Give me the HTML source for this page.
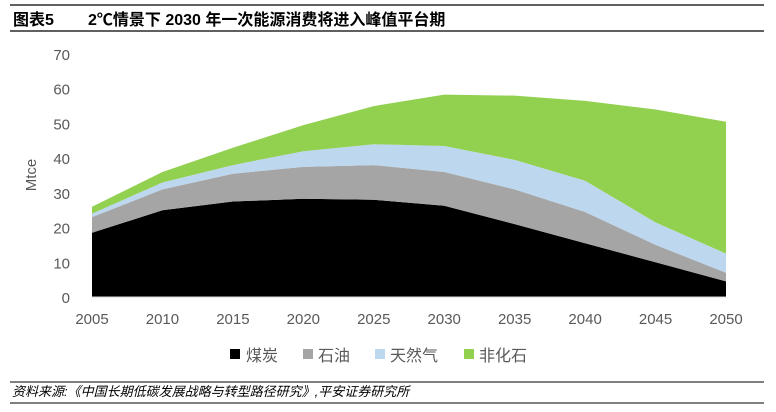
<!DOCTYPE html>
<html><head><meta charset="utf-8"><style>
body{margin:0;background:#fff;width:776px;height:412px;overflow:hidden;font-family:"Liberation Sans","Noto Sans CJK SC",sans-serif}
</style></head><body>
<svg width="776" height="412" style="position:absolute;left:0;top:0" font-family="Liberation Sans, Noto Sans CJK SC, sans-serif">
<line x1="10" y1="5" x2="764" y2="5" stroke="#000" stroke-width="1.2"/>
<text x="13" y="25" font-size="16" font-weight="bold">图表5</text>
<text x="88" y="25" font-size="16" font-weight="bold">2℃情景下 2030 年一次能源消费将进入峰值平台期</text>
<line x1="10" y1="31" x2="764" y2="31" stroke="#000" stroke-width="1.2"/>
<g id="plot"></g>
<text transform="translate(36,175) rotate(-90)" text-anchor="middle" font-size="15" fill="#595959">Mtce</text>
<g font-size="16" fill="#595959">
<rect x="230" y="349" width="10" height="10" fill="#000"/><text x="246" y="361">煤炭</text>
<rect x="303" y="349" width="10" height="10" fill="#a5a5a5"/><text x="318" y="361">石油</text>
<rect x="375" y="349" width="10" height="10" fill="#bdd7ee"/><text x="390" y="361">天然气</text>
<rect x="464" y="349" width="10" height="10" fill="#92d050"/><text x="479" y="361">非化石</text>
</g>
<line x1="10" y1="382" x2="764" y2="382" stroke="#000" stroke-width="1"/>
<text x="12" y="396" font-size="13" font-style="italic">资料来源:《中国长期低碳发展战略与转型路径研究》,平安证券研究所</text>
<line x1="10" y1="403" x2="764" y2="403" stroke="#000" stroke-width="1"/>
</svg>
<script>
const years=[2005,2010,2015,2020,2025,2030,2035,2040,2045,2050];
const coal=[18.5,25,27.5,28.3,28,26.3,21,15.5,10,4.5];
const oil=[4.5,6,8,9.2,10,9.7,10,9,5,2.5];
const gas=[1,2,2.5,4.5,6,7.5,8.5,9,6.5,5.5];
const nonfossil=[2,3,5,7.5,11,14.8,18.5,23,32.5,38];
const yTicks=[0,10,20,30,40,50,60,70];
const NS="http://www.w3.org/2000/svg";
const x=v=>92+(v-2005)/45*634;
const y=v=>297-v*243/70;
const g=document.getElementById('plot');
function mk(t,a){const e=document.createElementNS(NS,t);for(const k in a)e.setAttribute(k,a[k]);g.appendChild(e);return e;}
const series=[[coal,'#000','area-coal'],[oil,'#a5a5a5','area-oil'],[gas,'#bdd7ee','area-gas'],[nonfossil,'#92d050','area-nonfossil']];
let base=years.map(()=>0);
series.forEach(([vals,col,name])=>{
  const top=base.map((b,i)=>b+vals[i]);
  let d='M'+years.map((yr,i)=>x(yr)+','+y(top[i])).join('L');
  for(let i=years.length-1;i>=0;i--)d+='L'+x(years[i])+','+y(base[i]);
  const p=mk('path',{d:d+'Z',fill:col});
  
  
  base=top;
});
const ax=mk('line',{x1:92,y1:297,x2:726,y2:297,stroke:'#d9d9d9'});


yTicks.forEach(t=>{const e=mk('text',{x:70,y:y(t)+6,'text-anchor':'end','font-size':15,fill:'#595959'});e.textContent=t;

});
years.forEach(t=>{const e=mk('text',{x:x(t),y:324,'text-anchor':'middle','font-size':15,fill:'#595959'});e.textContent=t;

});
</script>
</body></html>
